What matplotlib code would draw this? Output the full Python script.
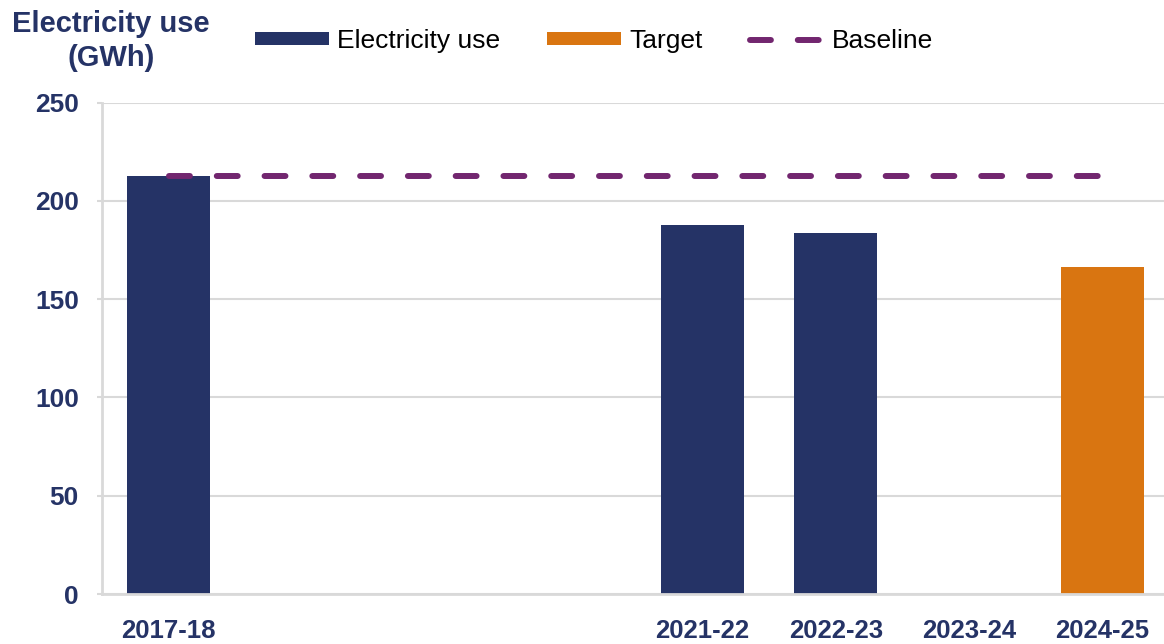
import matplotlib.pyplot as plt
import numpy as np

plt.rcParams['font.family'] = ['Liberation Sans', 'DejaVu Sans']

years = ["2017-18", "2018-19", "2019-20", "2020-21", "2021-22", "2022-23", "2023-24", "2024-25"]
year_labels = ["2017-18", "", "", "", "2021-22", "2022-23", "2023-24", "2024-25"]
electricity = [212.4, np.nan, np.nan, np.nan, 187.6, 183.8, np.nan, np.nan]
target = [np.nan, np.nan, np.nan, np.nan, np.nan, np.nan, np.nan, 166.3]
baseline = [212.4] * 8

NAVY = "#253366"
ORANGE = "#D97511"
PURPLE = "#72266F"
GRID = "#d9d9d9"

fig = plt.figure(figsize=(11.64, 6.44), dpi=100)
ax = fig.add_axes([102 / 1164, 1 - 594 / 644, 1062 / 1164, 491.5 / 644])

x = np.arange(len(years))
b1 = ax.bar(x, electricity, width=0.62, color=NAVY, label="Electricity use", zorder=2)
b2 = ax.bar(x, target, width=0.62, color=ORANGE, label="Target", zorder=2)
line, = ax.plot(x, baseline, color=PURPLE, lw=4.3, dash_capstyle="round",
                label="Baseline", zorder=3)
line.set_dashes((3.5, 4.5))

ax.set_xlim(-0.5, 7.46)
ax.set_ylim(0, 250)
ax.set_yticks([0, 50, 100, 150, 200, 250])
ax.set_xticks(x)
ax.set_xticklabels(year_labels)

ax.yaxis.grid(True, color=GRID, lw=1.5)
ax.set_axisbelow(True)
for s in ["top", "right"]:
    ax.spines[s].set_visible(False)
for s in ["left", "bottom"]:
    ax.spines[s].set_color(GRID)
    ax.spines[s].set_linewidth(2)

ax.tick_params(axis="x", length=0, pad=18, labelsize=18.5, labelcolor=NAVY)
ax.tick_params(axis="y", length=3.6, width=1.5, color=GRID, pad=13,
               labelsize=19, labelcolor=NAVY)
for lab in ax.get_xticklabels() + ax.get_yticklabels():
    lab.set_fontweight("bold")

fig.text(111 / 1164, 1 - 41 / 644, "Electricity use\n(GWh)", ha="center", va="center",
         fontsize=21, fontweight="bold", color=NAVY, linespacing=1.3)

fig.legend([b1, b2, line], ["Electricity use", "Target", "Baseline"],
           loc="center left", bbox_to_anchor=(255 / 1164, 1 - 41 / 644),
           ncol=3, frameon=False, fontsize=19, handlelength=2.8, handleheight=0.42,
           handletextpad=0.3, columnspacing=1.8, borderpad=0, borderaxespad=0)

fig.savefig("out.png", dpi=100)
